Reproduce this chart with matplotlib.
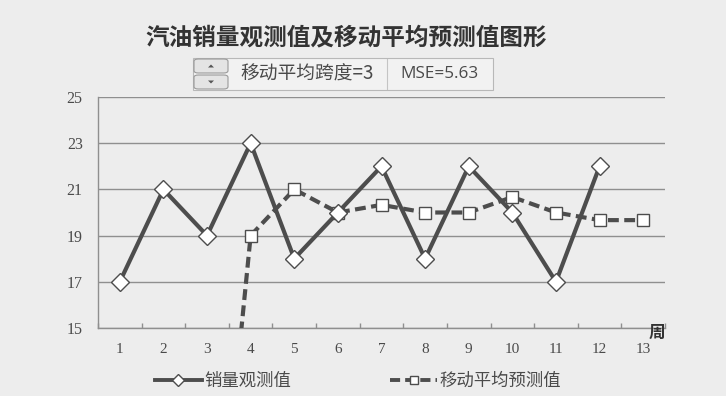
import matplotlib
matplotlib.use("Agg")
import matplotlib.pyplot as plt
from matplotlib.lines import Line2D
from matplotlib.patches import FancyBboxPatch, Rectangle, Polygon

plt.rcParams["font.family"] = ["Noto Sans CJK SC", "DejaVu Sans"]

# Weekly gasoline sales and 3-week moving-average forecast
weeks = list(range(1, 14))
sales_weeks = list(range(1, 13))
sales = [17, 21, 19, 23, 18, 20, 22, 18, 22, 20, 17, 22]
# week 3 is an empty cell, plotted as 0 by the spreadsheet
forecast_weeks = list(range(3, 14))
forecast = [0, 19, 21, 20, 20.33, 20, 20, 20.67, 20, 19.67, 19.67]
yticks = [15, 17, 19, 21, 23, 25]

title = "汽油销量观测值及移动平均预测值图形"
span_text = "移动平均跨度=3"
mse_text = "MSE=5.63"
sales_label = "销量观测值"
forecast_label = "移动平均预测值"

BG = "#ededed"
LINE = "#4d4d4d"
GRID = "#8f8f8f"
TEXT = "#4a4a4a"

W, H = 726, 396
fig = plt.figure(figsize=(W / 100, H / 100), dpi=100, facecolor=BG)


def fx(px):
    return px / W


def fy(py):
    return 1 - py / H


ax = fig.add_axes([fx(98), fy(328), fx(665) - fx(98), fy(97) - fy(328)])
ax.set_facecolor(BG)
ax.set_xlim(0.5, 13.5)
ax.set_ylim(15, 25)

for s in ("top", "right"):
    ax.spines[s].set_visible(False)
for s in ("left", "bottom"):
    ax.spines[s].set_color(GRID)
    ax.spines[s].set_linewidth(1.0)

ax.set_yticks(yticks)
ax.yaxis.grid(True, color=GRID, linewidth=1.0)
ax.set_axisbelow(True)
ax.tick_params(axis="y", length=0, pad=11, labelsize=11.5, labelcolor=TEXT)
ax.set_xticks(weeks)
ax.set_xticks([w + 0.5 for w in range(0, 14)], minor=True)
ax.tick_params(axis="x", which="major", length=0, pad=11, labelsize=11,
               labelcolor=TEXT)
ax.tick_params(axis="x", which="minor", direction="in", length=3.5,
               color=GRID, width=1.0)
for lab in ax.get_xticklabels() + ax.get_yticklabels():
    lab.set_fontfamily("Liberation Serif")

ax.plot(forecast_weeks, forecast, color=LINE, lw=3.0, dashes=(2.6, 1.3),
        marker="s", ms=8.5, mfc="white", mec=LINE, mew=1.0,
        solid_capstyle="butt", zorder=3)
ax.plot(sales_weeks, sales, color=LINE, lw=3.0, marker="D", ms=9.5,
        mfc="white", mec=LINE, mew=1.0, zorder=4)

ax.text(13.32, 14.78, "周", fontsize=12, fontweight="bold", color="#333333",
        ha="center", va="center", clip_on=False)

fig.text(fx(346), fy(37), title, fontsize=17, fontweight="bold",
         color="#333333", ha="center", va="center")

# spinner control with the span and MSE readout
box = Rectangle((fx(193), fy(90)), fx(493) - fx(193), fy(58) - fy(90),
                transform=fig.transFigure, facecolor="#f2f2f2",
                edgecolor="#b8b8b8", lw=0.8)
fig.add_artist(box)
for top, bot, up in ((58, 74, True), (74, 90, False)):
    btn = FancyBboxPatch((fx(194), fy(bot - 1)), fx(228) - fx(194),
                         fy(top + 1) - fy(bot - 1),
                         boxstyle="round,pad=0,rounding_size=0.006",
                         transform=fig.transFigure, facecolor="#e4e4e4",
                         edgecolor="#9a9a9a", lw=0.8)
    fig.add_artist(btn)
    cx, cy = 211, (top + bot) / 2
    if up:
        pts = [(fx(cx - 3), fy(cy + 1.5)), (fx(cx + 3), fy(cy + 1.5)),
               (fx(cx), fy(cy - 1.5))]
    else:
        pts = [(fx(cx - 3), fy(cy - 1.5)), (fx(cx + 3), fy(cy - 1.5)),
               (fx(cx), fy(cy + 1.5))]
    fig.add_artist(Polygon(pts, closed=True, transform=fig.transFigure,
                           facecolor="#555555", edgecolor="none"))
fig.add_artist(Line2D([fx(387), fx(387)], [fy(59), fy(89)],
                      transform=fig.transFigure, color="#c4c4c4", lw=0.8))
fig.text(fx(240), fy(74), span_text, fontsize=13.5, color=TEXT,
         ha="left", va="center")
fig.text(fx(400), fy(74), mse_text, fontsize=12.3, color=TEXT,
         ha="left", va="center", family=["Open Sans", "DejaVu Sans"])

handles = [
    Line2D([], [], color=LINE, lw=2.8, marker="D", ms=6, mfc="white",
           mec=LINE, mew=1.0),
    Line2D([], [], color=LINE, lw=2.8, dashes=(2.6, 1.3), marker="s", ms=6,
           mfc="white", mec=LINE, mew=1.0),
]
fig.legend(handles, [sales_label, forecast_label], loc="center",
           bbox_to_anchor=(fx(358), fy(381)), ncol=2, frameon=False,
           fontsize=12.5, handlelength=2.7, handletextpad=0.15,
           columnspacing=5.7, numpoints=1, labelcolor=TEXT)

fig.savefig("out.png", dpi=100, facecolor=BG)
